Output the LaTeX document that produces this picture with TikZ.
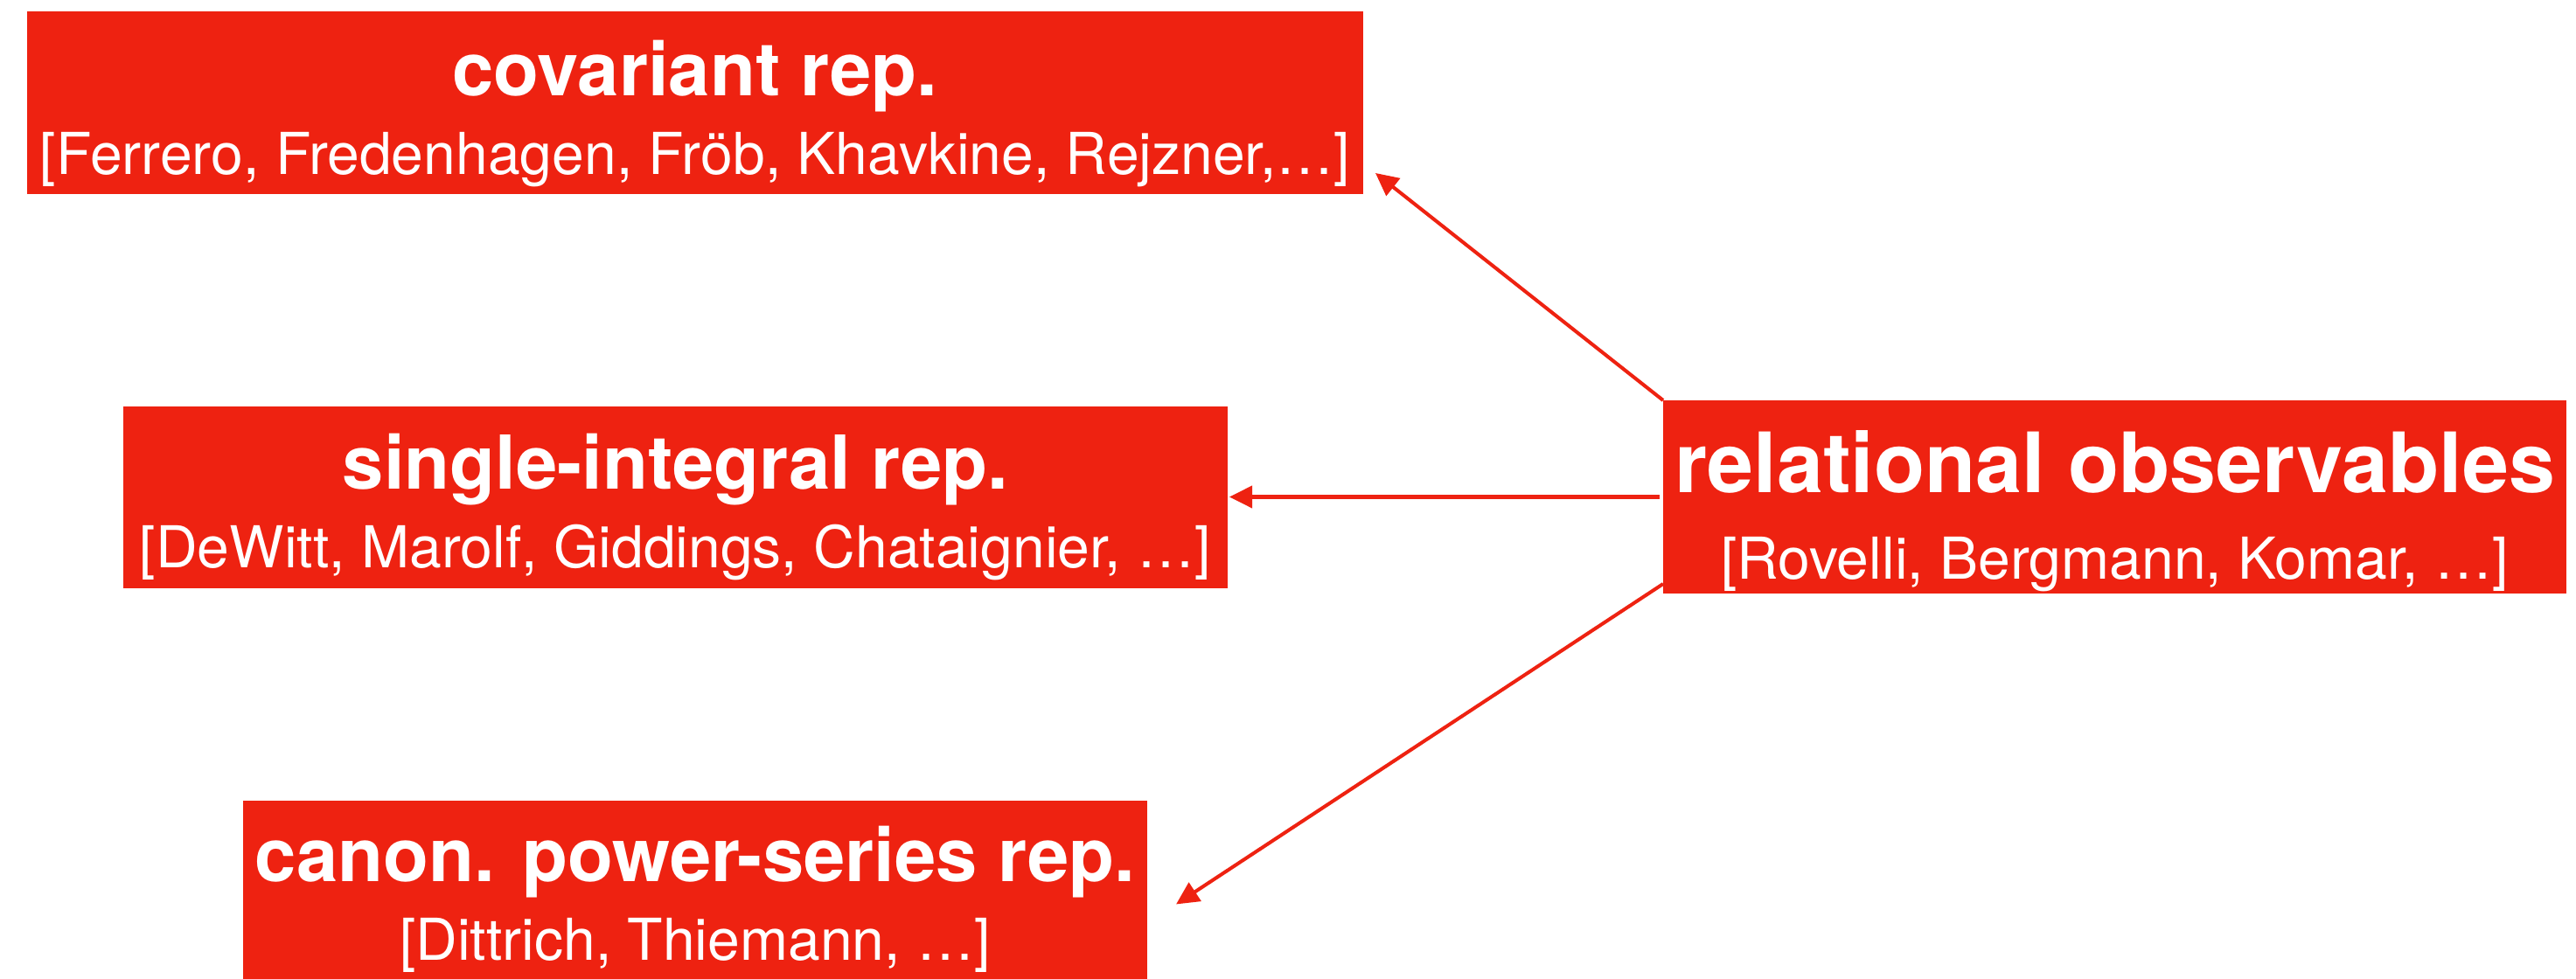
\documentclass[tikz,border=0pt]{standalone}
\usepackage{fontspec}
\setmainfont{TeX Gyre Heros}
\usetikzlibrary{arrows.meta,calc}

\definecolor{keyred}{RGB}{238,34,17}

\begin{document}
\begin{tikzpicture}[line cap=butt]
  % Styles
  \tikzset{
    repbox/.style={fill=keyred, draw=none, inner sep=0pt, outer sep=0pt},
    title/.style={anchor=base, text=white, inner sep=0pt,
      font=\fontsize{24.2pt}{28pt}\selectfont\bfseries},
    bigtitle/.style={title, font=\fontsize{27.1pt}{31pt}\selectfont\bfseries},
    names/.style={anchor=base, text=white, inner sep=0pt,
      font=\fontsize{18.8pt}{22pt}\selectfont},
    link/.style={draw=keyred, line width=1.15pt,
      -{Triangle[length=7.4pt,width=7.1pt]}}
  }
  \useasboundingbox (0,0) rectangle (29.46,11.2);

  % Boxes
  \node[repbox, minimum width=15.28cm, minimum height=2.09cm] (cov) at (7.95,10.025) {};
  \node[repbox, minimum width=12.63cm, minimum height=2.08cm] (single) at (7.725,5.51) {};
  \node[repbox, minimum width=10.34cm, minimum height=2.09cm] (canon) at (7.95,0.995) {};
  \node[repbox, minimum width=10.33cm, minimum height=2.21cm] (rel) at (24.185,5.515) {};

  % Texts
  \node[title] (cov-t) at ([yshift=-0.97cm]cov.north) {covariant rep.};
  \node[names] (cov-s) at ([yshift=-1.87cm]cov.north) {[Ferrero, Fredenhagen, Fröb, Khavkine, Rejzner,…]};
  \node[title] (single-t) at ([yshift=-0.95cm]single.north) {single-integral rep.};
  \node[names] (single-s) at ([yshift=-1.85cm]single.north) {[DeWitt, Marolf, Giddings, Chataignier, …]};
  \node[title] (canon-t) at ([yshift=-0.93cm]canon.north) {canon. power-series rep.};
  \node[names] (canon-s) at ([yshift=-1.83cm]canon.north) {[Dittrich, Thiemann, …]};
  \node[bigtitle] (rel-t) at ([yshift=-1.06cm]rel.north) {relational observables};
  \node[names] (rel-s) at ([yshift=-2.05cm]rel.north) {[Rovelli, Bergmann, Komar, …]};

  % Arrows
  \draw[link] (rel.north west) -- ([xshift=0.14cm,yshift=0.24cm]cov.south east);
  \draw[link] ([xshift=-0.04cm]rel.west) -- ([xshift=0.02cm]rel.west -| single.east);
  \draw[link] ([yshift=0.11cm]rel.south west) -- ([xshift=0.33cm,yshift=-0.14cm]canon.east);
\end{tikzpicture}
\end{document}
